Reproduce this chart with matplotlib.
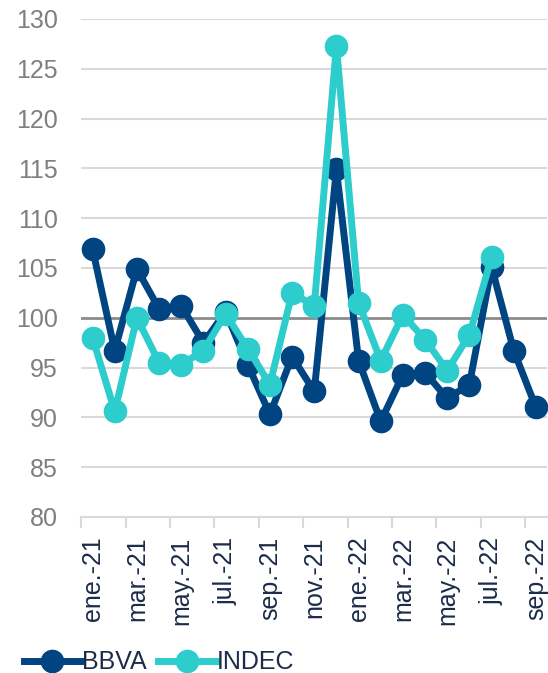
import matplotlib
matplotlib.use("Agg")
import matplotlib.pyplot as plt
from matplotlib.ticker import FixedLocator, NullFormatter

plt.rcParams['font.family'] = ['Liberation Sans', 'DejaVu Sans']

# months ene-21 .. sep-22
months = ['ene.-21', 'feb.-21', 'mar.-21', 'abr.-21', 'may.-21', 'jun.-21',
          'jul.-21', 'ago.-21', 'sep.-21', 'oct.-21', 'nov.-21', 'dic.-21',
          'ene.-22', 'feb.-22', 'mar.-22', 'abr.-22', 'may.-22', 'jun.-22',
          'jul.-22', 'ago.-22', 'sep.-22']

bbva = [106.9, 96.7, 104.9, 100.9, 101.2, 97.5, 100.6, 95.3, 90.3, 96.1,
        92.6, 114.9, 95.7, 89.6, 94.3, 94.5, 91.9, 93.3, 105.1, 96.7, 91.0]
indec = [98.0, 90.6, 100.0, 95.5, 95.3, 96.7, 100.4, 96.9, 93.3, 102.5,
         101.2, 127.3, 101.5, 95.7, 100.3, 97.8, 94.7, 98.3, 106.1]

navy = '#004481'
aqua = '#2DCCCD'
label_col = '#1C2B4A'

fig = plt.figure(figsize=(5.48, 6.73), dpi=100)
ax = fig.add_axes([0.1487, 0.2318, 0.8495, 0.74])

x_b = list(range(len(bbva)))
x_i = list(range(len(indec)))

for y in range(80, 131, 5):
    if y == 100:
        ax.axhline(y, color='#8C8C8C', lw=2, zorder=1)
    elif y > 80:
        ax.axhline(y, color='#D9D9D9', lw=1.5, zorder=0)

ax.plot(x_b, bbva, color=navy, lw=5, marker='o', ms=16, label='BBVA', zorder=3)
ax.plot(x_i, indec, color=aqua, lw=5, marker='o', ms=16, label='INDEC', zorder=4)

ax.set_xlim(-0.5, len(months) - 0.5)
ax.set_ylim(80, 130)
ax.set_yticks(range(80, 131, 5))
ax.tick_params(axis='y', length=0, pad=17, labelsize=18, labelcolor='#7F7F7F')

# tick marks between categories, labels every two months
ax.xaxis.set_major_locator(FixedLocator([i - 0.5 for i in range(0, len(months), 2)]))
ax.xaxis.set_major_formatter(NullFormatter())
ax.xaxis.set_minor_locator(FixedLocator(list(range(0, len(months), 2))))
ax.set_xticklabels(months[::2], minor=True, rotation=90, fontsize=18,
                   color=label_col, va='top', ha='center')
ax.tick_params(axis='x', which='major', length=8, width=1.5, color='#D9D9D9')
ax.tick_params(axis='x', which='minor', length=0, pad=14)

for s in ['top', 'right', 'left']:
    ax.spines[s].set_visible(False)
ax.spines['bottom'].set_color('#D9D9D9')
ax.spines['bottom'].set_linewidth(1.5)

leg = fig.legend(loc='lower left', bbox_to_anchor=(0.025, -0.017), ncol=2,
                 frameon=False, fontsize=18, handlelength=2.3,
                 handletextpad=0.05, columnspacing=0.45, borderaxespad=0)
for t in leg.get_texts():
    t.set_color(label_col)

fig.savefig('out.png', dpi=100)
